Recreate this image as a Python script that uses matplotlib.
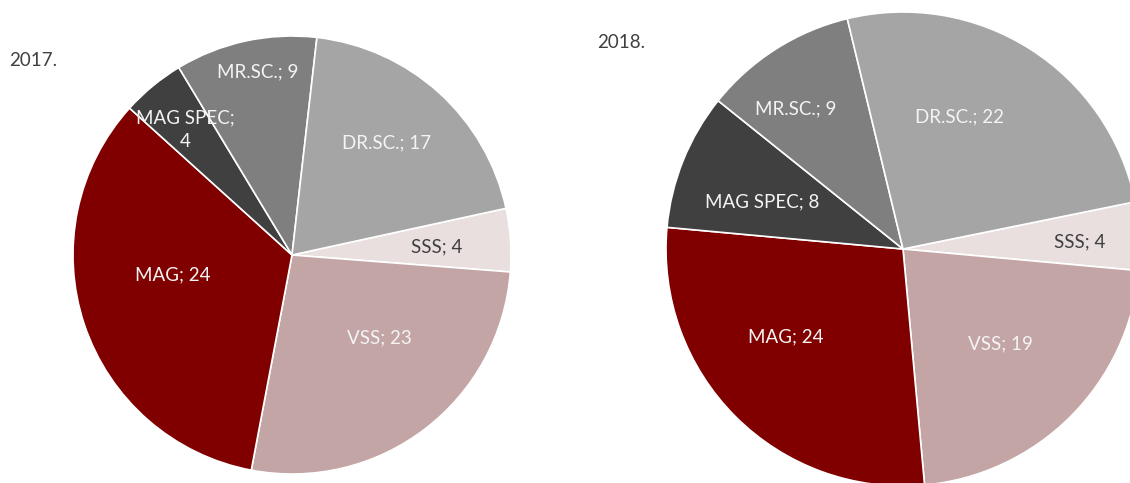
import matplotlib
matplotlib.use("Agg")
import matplotlib.pyplot as plt

plt.rcParams['font.family'] = ['Lato', 'DejaVu Sans']

# Data (clockwise order starting from SSS)
categories = ["SSS", "VSS", "MAG", "MAG SPEC", "MR.SC.", "DR.SC."]

# 2017: printed numbers and the wedge sizes as drawn (MAG wedge is drawn larger than its label)
numbers_2017 = [4, 23, 24, 4, 9, 17]
sizes_2017 = [4, 23, 29, 4, 9, 17]

numbers_2018 = [4, 19, 24, 8, 9, 22]
sizes_2018 = numbers_2018

colors = ["#E9DFDF", "#C3A5A5", "#800000", "#404040", "#7F7F7F", "#A5A5A5"]
text_colors = ["#404040", "#F4F4F4", "#F4F4F4", "#F4F4F4", "#F4F4F4", "#F4F4F4"]

W, H = 1130, 483
fig = plt.figure(figsize=(W / 100, H / 100), dpi=100)


def draw_pie(cx, cy, r, sizes, numbers, startangle, label_pos, title, title_xy, wrap=()):
    ax = fig.add_axes([(cx - r) / W, (H - cy - r) / H, 2 * r / W, 2 * r / H])
    ax.pie(sizes, colors=colors, startangle=startangle, counterclock=False, radius=1,
           wedgeprops=dict(edgecolor="white", linewidth=1.2))
    ax.set_xlim(-1, 1)
    ax.set_ylim(-1, 1)
    ax.set_aspect("auto")
    ax.axis("off")
    for i, (name, num) in enumerate(zip(categories, numbers)):
        sep = ";\n" if name in wrap else "; "
        x, y = label_pos[i]
        ax.text(x, y, f"{name}{sep}{num}", ha="center", va="center",
                color=text_colors[i], fontsize=13.5, linespacing=1.45)
    fig.text(title_xy[0] / W, 1 - title_xy[1] / H, title, ha="left", va="center",
             color="#404040", fontsize=13.5)


# label positions in units of the radius, relative to the pie centre
pos_2017 = [(0.66, 0.038), (0.397, -0.38), (-0.545, -0.09),
            (-0.489, 0.571), (-0.157, 0.837), (0.434, 0.511)]
pos_2018 = [(0.747, 0.028), (0.412, -0.402), (-0.494, -0.371),
            (-0.596, 0.197), (-0.453, 0.591), (0.24, 0.557)]

draw_pie(292, 255, 219, sizes_2017, numbers_2017, 12.3, pos_2017, "2017.", (9, 61),
         wrap=("MAG SPEC",))
draw_pie(903, 249, 237, sizes_2018, numbers_2018, 11.5, pos_2018, "2018.", (597, 42))

fig.savefig("out.png", dpi=100)
